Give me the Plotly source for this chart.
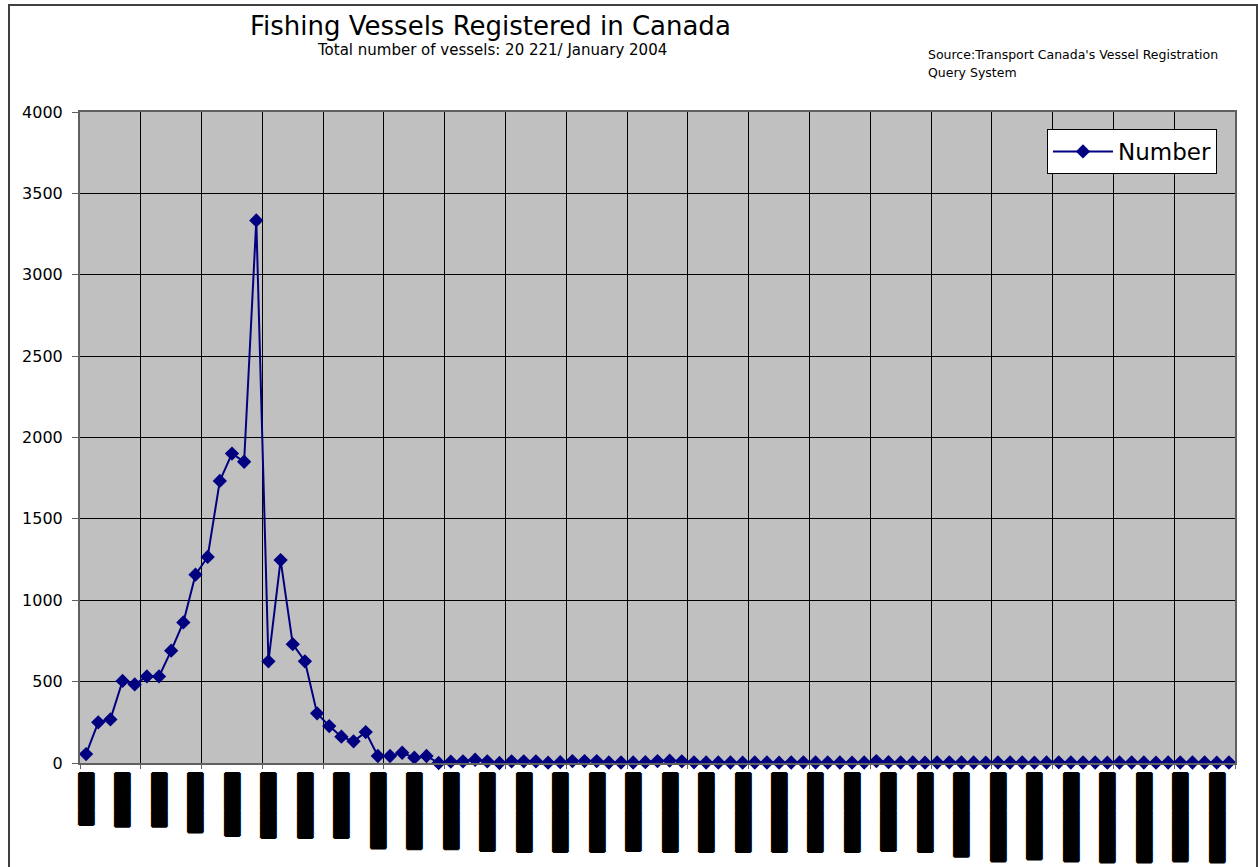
import plotly.graph_objects as go

# ---- data ----
categories = list(range(95))
values = [55, 250, 268, 504, 483, 532, 532, 690, 864, 1157,
          1266, 1733, 1901, 1851, 3334, 625, 1247, 730, 625, 305,
          227, 162, 133, 190, 43, 43, 63, 33, 43, 0,
          8, 10, 20, 10, 0, 10, 10, 10, 2, 5,
          12, 12, 12, 3, 3, 3, 5, 12, 14, 10,
          4, 3, 3, 3, 2, 3, 3, 2, 3, 4,
          3, 3, 3, 2, 3, 12, 5, 3, 3, 2,
          3, 4, 3, 3, 2, 3, 3, 3, 2, 3,
          4, 3, 3, 3, 2, 3, 3, 3, 2, 3,
          3, 3, 3, 2, 3]
label_positions = categories[::3]
# the category labels in the reference render as solid black blocks;
# their lengths in eighths of a block character
label_eighths = [55, 57, 57, 63, 67, 69, 69, 69, 80, 81, 81, 83, 84, 84, 84, 83,
                 84, 84, 84, 84, 84, 84, 83, 84, 89, 94, 92, 94, 95, 95, 94, 95]
y_ticks = [0, 500, 1000, 1500, 2000, 2500, 3000, 3500, 4000]

PART = ["", "\u258F", "\u258E", "\u258D", "\u258C", "\u258B", "\u258A", "\u2589"]


def blocks(n8):
    return "\u2588" * (n8 // 8) + PART[n8 % 8]


tick_labels = [blocks(n) for n in label_eighths]

fig = go.Figure()
fig.add_trace(go.Scatter(
    x=categories, y=values, name="Number", mode="lines+markers",
    line=dict(color="#000080", width=2),
    marker=dict(symbol="diamond", size=11, color="#000080"),
    cliponaxis=False,
))
fig.add_trace(go.Scatter(
    x=label_positions, y=[None] * len(label_positions), xaxis="x2",
    showlegend=False, hoverinfo="skip", mode="markers",
))

fig.update_layout(
    width=1258, height=867,
    margin=dict(l=80, r=23, t=112, b=104),
    paper_bgcolor="white", plot_bgcolor="#C0C0C0",
    font=dict(family="DejaVu Sans", color="black"),
    xaxis=dict(
        range=[-0.5, 94.5], tickmode="linear", tick0=-0.5, dtick=5,
        showgrid=True, gridcolor="black", gridwidth=1,
        ticks="outside", ticklen=4, tickcolor="#606060",
        showticklabels=False, zeroline=False, automargin=False,
        showline=True, linecolor="#606060", linewidth=2, mirror=True,
    ),
    xaxis2=dict(
        range=[-0.5, 94.5], overlaying="x", anchor="y", side="bottom",
        tickmode="array", tickvals=label_positions, ticktext=tick_labels,
        tickangle=90, ticks="", showgrid=False, zeroline=False, showline=False,
        tickfont=dict(family="DejaVu Sans Mono", size=12.5, color="black",
                      shadow="1px 0px 0px black, -1px 0px 0px black, "
                             "0px 1px 0px black, 0px -1px 0px black"),
        ticklabelstandoff=9, automargin=False,
    ),
    yaxis=dict(
        range=[0, 4000], tickmode="array", tickvals=y_ticks,
        showgrid=True, gridcolor="black", gridwidth=1,
        ticks="outside", ticklen=6, tickcolor="#606060",
        tickfont=dict(family="DejaVu Sans", size=16, color="black"),
        zeroline=False, showline=True, linecolor="#606060", linewidth=2, mirror=True,
        ticklabelstandoff=6, automargin=False,
    ),
    legend=dict(
        x=0.9844, y=0.9739, xanchor="right", yanchor="top",
        bgcolor="white", bordercolor="black", borderwidth=1,
        itemwidth=60,
        font=dict(family="DejaVu Sans", size=23, color="black"),
    ),
    showlegend=True,
)

fig.add_annotation(text="Fishing Vessels Registered in Canada", xref="paper", yref="paper",
                   x=0.355, y=1.132, xanchor="center", yanchor="middle", showarrow=False,
                   font=dict(family="DejaVu Sans", size=26, color="black"))
fig.add_annotation(text="Total number of vessels: 20 221/ January 2004", xref="paper", yref="paper",
                   x=0.357, y=1.0955, xanchor="center", yanchor="middle", showarrow=False,
                   font=dict(family="DejaVu Sans", size=15, color="black"))
fig.add_annotation(text="Source:Transport Canada's Vessel Registration", xref="paper", yref="paper",
                   x=0.7325, y=1.089, xanchor="left", yanchor="middle", showarrow=False,
                   font=dict(family="DejaVu Sans", size=12.5, color="black"))
fig.add_annotation(text="Query System", xref="paper", yref="paper",
                   x=0.7325, y=1.0614, xanchor="left", yanchor="middle", showarrow=False,
                   font=dict(family="DejaVu Sans", size=12.5, color="black"))

# outer chart-area frame
fig.add_shape(type="rect", xref="paper", yref="paper",
              x0=(9 - 80) / 1155, x1=(1257 - 80) / 1155,
              y0=-0.3, y1=(763 - 5) / 651,
              line=dict(color="#404040", width=2), layer="below")

fig.write_html("out.html", config={"displayModeBar": False},
               post_script="document.body.style.margin='0';")
